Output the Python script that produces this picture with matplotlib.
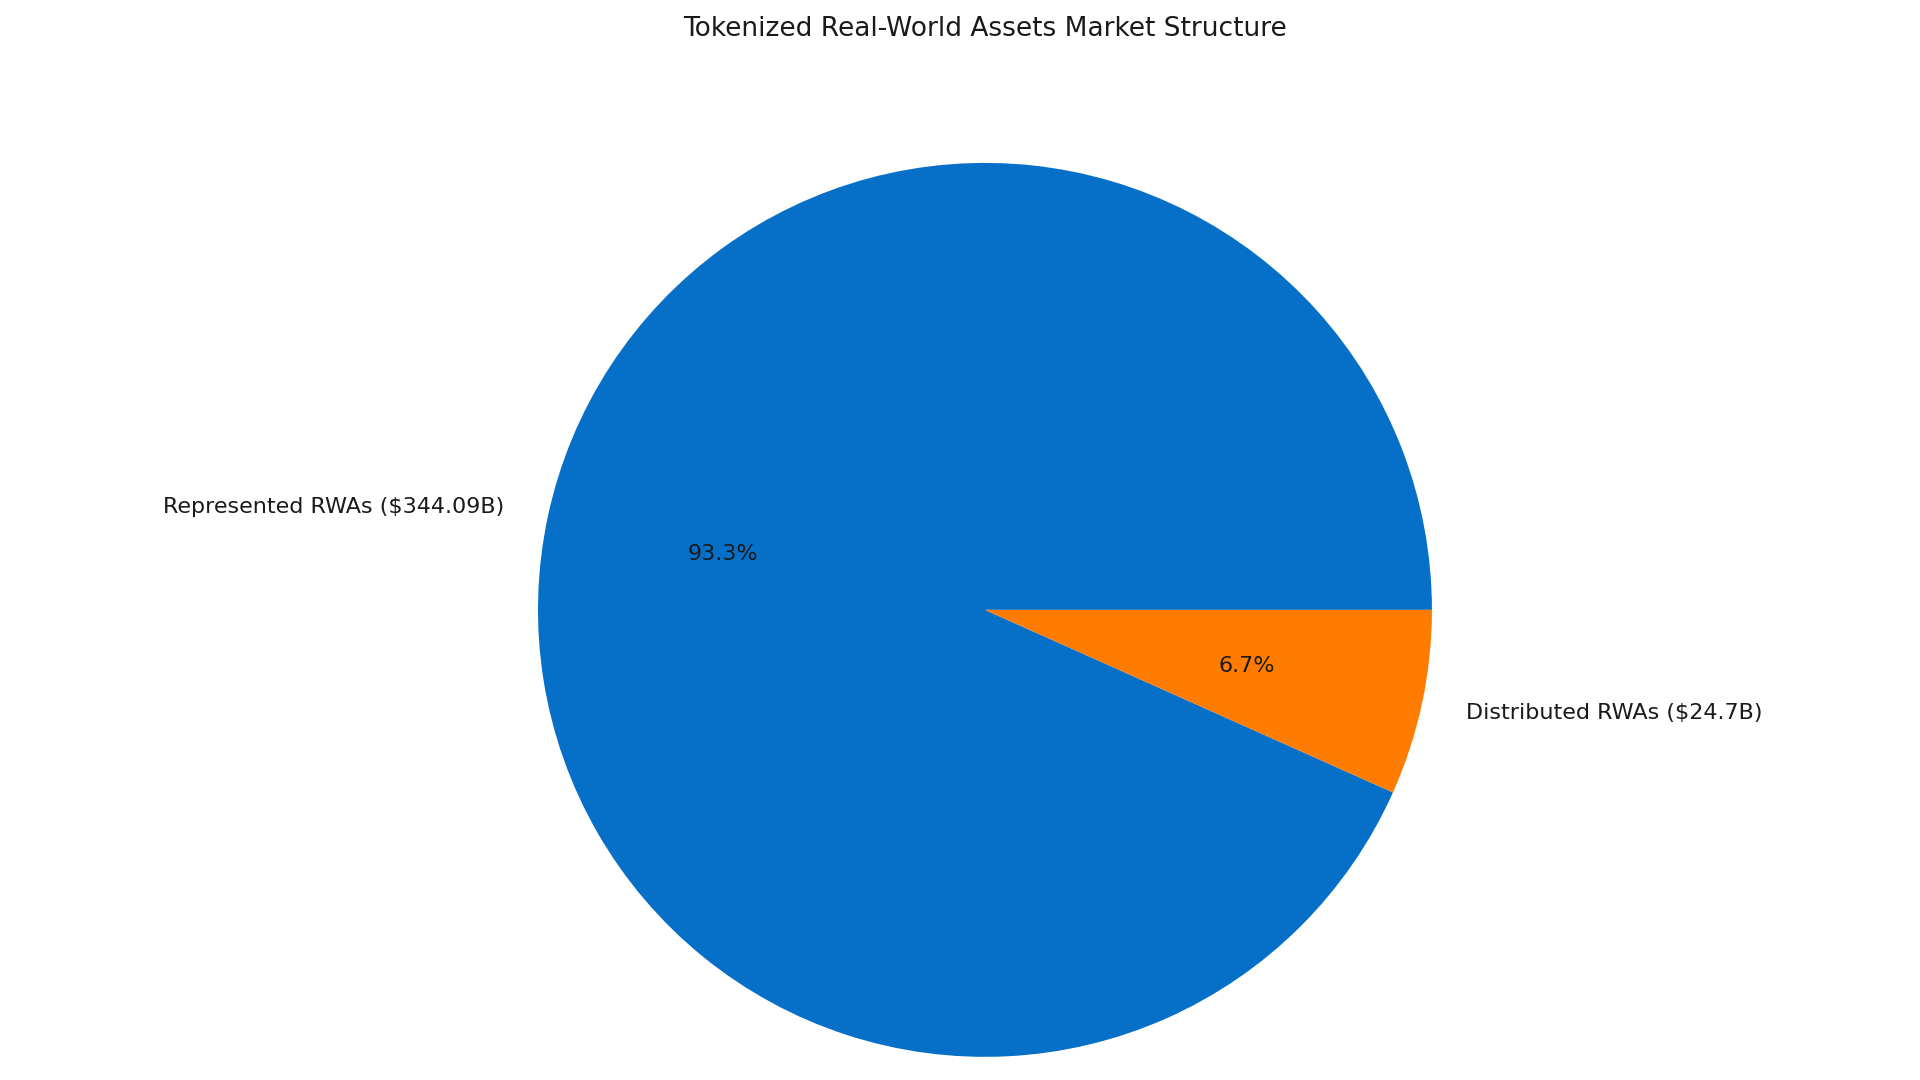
import matplotlib
matplotlib.use("Agg")
import matplotlib.pyplot as plt

# market segments (billions USD)
labels = ["Represented RWAs ($344.09B)", "Distributed RWAs ($24.7B)"]
values = [344.09, 24.7]
colors = ["#0670C9", "#FF7C00"]

fig = plt.figure(figsize=(19.2, 10.8), dpi=100)
ax = fig.add_axes([0.2802, 0.0213, 0.4656, 0.828])
ax.pie(values, labels=labels, colors=colors, autopct="%1.1f%%",
       textprops={"fontsize": 16, "color": "#1a1a1a"})
ax.set_aspect("equal")
ax.set_xlim(-1, 1)
ax.set_ylim(-1, 1)
fig.text(0.513, 0.973, "Tokenized Real-World Assets Market Structure",
         ha="center", va="center", fontsize=19, color="#1a1a1a")

fig.savefig("out.png", dpi=100)
